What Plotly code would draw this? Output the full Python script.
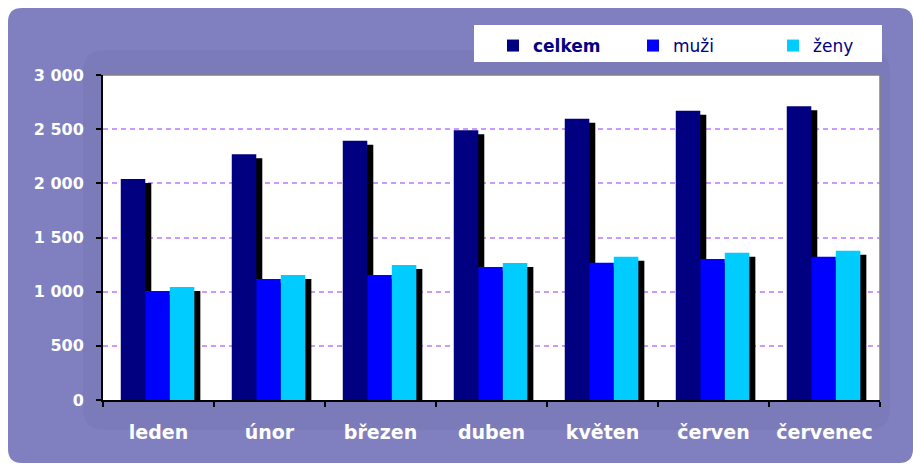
import plotly.graph_objects as go

# ---------------- data ----------------
months = ["leden", "únor", "březen", "duben", "květen", "červen", "červenec"]
celkem = [2040, 2268, 2394, 2489, 2597, 2670, 2711]
muzi = [1006, 1117, 1154, 1228, 1267, 1301, 1322]
zeny = [1043, 1154, 1246, 1265, 1322, 1359, 1377]
series_names = ["<b>celkem</b>", "muži", "ženy"]
y_tick_vals = [0, 500, 1000, 1500, 2000, 2500, 3000]
y_tick_text = ["0", "500", "1 000", "1 500", "2 000", "2 500", "3 000"]

# ---------------- style ----------------
W, H = 913, 466
PL, PT, PW, PH = 103, 75, 777, 325   # plot area in screen pixels
ML, MT = PL, PT
MR, MB = W - ML - PW, H - MT - PH
FONT = "DejaVu Sans"
colors = ["#000080", "#0000FF", "#00CCFF"]
bar_w = 0.221
offsets = [-0.34, -0.119, 0.102]
YMAX = 3000
shadow_dx = 6 / (PW / len(months))      # category units
shadow_dy = 4 * YMAX / PH               # value units (axis shift only)


def pp(x, y):
    """screen pixel -> paper coords"""
    return (x - PL) / PW, (PT + PH - y) / PH


def rrect(x0, y0, x1, y1, r):
    def P(x, y):
        a, b = pp(x, y)
        return f"{a:.5f},{b:.5f}"
    s = f"M{P(x0 + r, y0)} L{P(x1 - r, y0)} Q{P(x1, y0)} {P(x1, y0 + r)} "
    s += f"L{P(x1, y1 - r)} Q{P(x1, y1)} {P(x1 - r, y1)} "
    s += f"L{P(x0 + r, y1)} Q{P(x0, y1)} {P(x0, y1 - r)} "
    s += f"L{P(x0, y0 + r)} Q{P(x0, y0)} {P(x0 + r, y0)} Z"
    return s


def rect(x0, y0, x1, y1, fill, layer="below"):
    a0, b0 = pp(x0, y1)
    a1, b1 = pp(x1, y0)
    return dict(type="rect", xref="paper", yref="paper", x0=a0, y0=b0, x1=a1, y1=b1,
                fillcolor=fill, layer=layer, line=dict(width=0))


def seg(x0, y0, x1, y1, color, width):
    a0, b0 = pp(x0, y0)
    a1, b1 = pp(x1, y1)
    return dict(type="line", xref="paper", yref="paper", x0=a0, y0=b0, x1=a1, y1=b1,
                line=dict(color=color, width=width), layer="above")


fig = go.Figure()
all_series = [celkem, muzi, zeny]

# shadows (base axes, shifted right/down)
for vals, off in zip(all_series, offsets):
    fig.add_trace(go.Bar(x=months, y=vals, xaxis="x", yaxis="y", offset=off, width=bar_w,
                         marker=dict(color="#000000", line=dict(width=0)),
                         showlegend=False, hoverinfo="skip"))
# main bars (overlay axes)
for vals, off, c, n in zip(all_series, offsets, colors, series_names):
    fig.add_trace(go.Bar(x=months, y=vals, xaxis="x2", yaxis="y2", offset=off, width=bar_w,
                         name=n, marker=dict(color=c, line=dict(width=0))))

shapes = [
    dict(type="path", xref="paper", yref="paper", path=rrect(8, 8, 913, 463, 14),
         fillcolor="#8080C0", line=dict(width=0), layer="below"),
    dict(type="path", xref="paper", yref="paper", path=rrect(83, 50, 890, 430, 22),
         fillcolor="#7B7BBA", line=dict(width=0), layer="below"),
    rect(PL, PT, PL + PW, PT + PH, "#FFFFFF"),
    rect(474, 25, 882, 62, "#FFFFFF"),
    seg(PL, PT, PL + PW, PT, "#808080", 1.5),
    seg(PL + PW, PT, PL + PW, PT + PH, "#808080", 1.5),
]

fig.update_layout(
    width=W, height=H,
    margin=dict(l=ML, r=MR, t=MT, b=MB, pad=0, autoexpand=False),
    paper_bgcolor="#FFFFFF",
    plot_bgcolor="rgba(0,0,0,0)",
    barmode="overlay",
    shapes=shapes,
    font=dict(family=FONT, color="#000080"),
    xaxis=dict(type="category", range=[-0.5 - shadow_dx, len(months) - 0.5 - shadow_dx],
               visible=False),
    yaxis=dict(range=[shadow_dy, YMAX + shadow_dy], visible=False),
    xaxis2=dict(type="category", overlaying="x", anchor="y2", side="bottom",
                range=[-0.5, len(months) - 0.5],
                showline=True, linecolor="#000000", linewidth=2,
                ticks="outside", tickson="boundaries", ticklen=5, tickwidth=1.5,
                tickcolor="#000000", showgrid=False,
                tickfont=dict(family=FONT, size=19, color="#FFFFFF", weight="bold"),
                ticklabelstandoff=14),
    yaxis2=dict(overlaying="y", anchor="x2", side="left", range=[0, YMAX],
                tickvals=y_tick_vals, ticktext=y_tick_text,
                showline=True, linecolor="#000000", linewidth=2,
                ticks="outside", ticklen=5, tickwidth=1.5, tickcolor="#000000",
                showgrid=True, gridcolor="#CC99FF", gridwidth=1.5, griddash="5px,4px",
                zeroline=False,
                tickfont=dict(family=FONT, size=16, color="#FFFFFF", weight="bold"),
                ticklabelstandoff=9),
    legend=dict(orientation="h", x=pp(493, 0)[0], xanchor="left",
                y=pp(0, 28)[1], yanchor="top",
                bgcolor="rgba(0,0,0,0)", borderwidth=0,
                entrywidth=95, entrywidthmode="pixels",
                font=dict(family=FONT, size=17, color="#000080"),
                itemclick=False, itemdoubleclick=False),
    showlegend=True,
)

fig.write_html(
    "out.html",
    config={"displayModeBar": False},
    post_script="document.body.style.margin='0';document.body.style.overflow='hidden';",
)
